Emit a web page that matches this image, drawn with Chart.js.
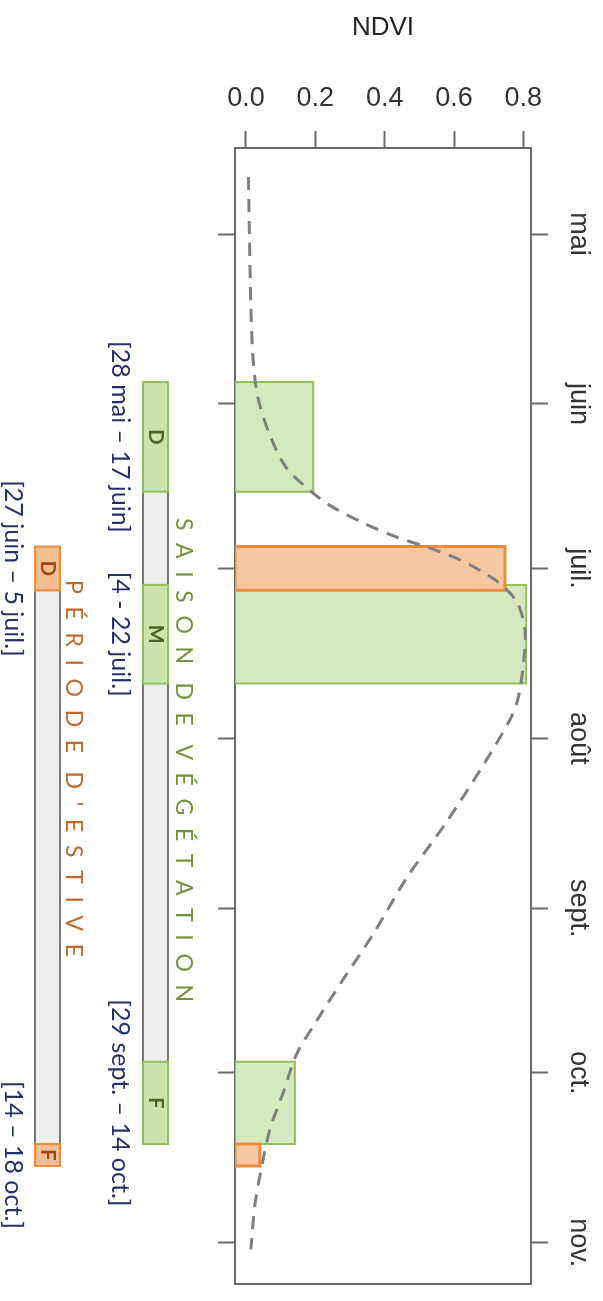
<!DOCTYPE html>
<html>
<head>
<meta charset="utf-8">
<script src="https://cdn.jsdelivr.net/npm/chart.js@4.4.1/dist/chart.umd.min.js"></script>
<style>
  html, body { margin: 0; padding: 0; background: #fff; }
  canvas { display: block; }
</style>
</head>
<body>
<canvas id="chartNdvi" width="603" height="1301"></canvas>
<script>
// axes
const NDVI_TICKS = [0, 0.2, 0.4, 0.6, 0.8];
const MONTH_LABELS = ['mai', 'juin', 'juil.', 'août', 'sept.', 'oct.', 'nov.'];
const MONTH_DAYS = [121, 152, 182, 213, 244, 274, 305]; // jour de l'année, 1er du mois

// courbe NDVI moyenne (pointillés)
const CURVE_DAY = [110.6, 121.3, 134.1, 144.3, 151.0, 157.7, 163.7, 167.8, 170.5, 173.7, 176.3, 178.3,
  180.7, 184.3, 188.1, 193.4, 199.4, 205.6, 209.5, 217.8, 228.2, 238.4, 248.7, 256.9, 264.5, 270.6,
  277.5, 284.3, 291.2, 298.0, 306.2];
const CURVE_NDVI = [0.007, 0.010, 0.014, 0.021, 0.035, 0.069, 0.117, 0.185, 0.242, 0.338, 0.435, 0.531,
  0.626, 0.723, 0.781, 0.805, 0.800, 0.785, 0.762, 0.685, 0.579, 0.464, 0.367, 0.281, 0.204, 0.146,
  0.108, 0.069, 0.045, 0.026, 0.014];

// saison de végétation : début / milieu / fin
const SEASON_PHASES = ['D', 'M', 'F'];
const SEASON_START = [148, 185, 272];
const SEASON_END = [168, 203, 287];
const SEASON_NDVI = [0.194, 0.808, 0.141];
const SEASON_DATES = ['[28 mai – 17 juin]', '[4 - 22 juil.]', '[29 sept. – 14 oct.]'];

// période d'estive : début / fin
const ESTIVE_PHASES = ['D', 'F'];
const ESTIVE_START = [178, 287];
const ESTIVE_END = [186, 291];
const ESTIVE_NDVI = [0.747, 0.040];
const ESTIVE_DATES = ['[27 juin – 5 juil.]', '[14 – 18 oct.]'];

const X_MIN = -0.0317, X_MAX = 0.822;
const Y_MIN = 105.3, Y_MAX = 312.5;

const GREEN_FILL = '#d5e9be', GREEN_LINE = '#93c05a';
const ORANGE_FILL = '#f5c7a3', ORANGE_LINE = '#ef8c3a';
const AXIS_COLOR = '#6a6a6a';

function rectPoints(d0, d1, v) {
  return [{x: X_MIN, y: d0}, {x: v, y: d0}, {x: v, y: d1}, {x: X_MIN, y: d1}, {x: X_MIN, y: d0}];
}

function rectDataset(d0, d1, v, fill, line, width, order) {
  return {
    data: rectPoints(d0, d1, v),
    showLine: true,
    fill: 'shape',
    backgroundColor: fill,
    borderColor: line,
    borderWidth: width,
    pointRadius: 0,
    tension: 0,
    order: order
  };
}

const datasets = [];
datasets.push({
  data: CURVE_DAY.map((d, i) => ({x: CURVE_NDVI[i], y: d})),
  showLine: true,
  fill: false,
  borderColor: '#7f7f7f',
  borderWidth: 3,
  borderDash: [13, 9],
  pointRadius: 0,
  tension: 0.3,
  order: 0
});
ESTIVE_START.forEach((d, i) => datasets.push(rectDataset(d, ESTIVE_END[i], ESTIVE_NDVI[i], ORANGE_FILL, ORANGE_LINE, 3, 1)));
SEASON_START.forEach((d, i) => datasets.push(rectDataset(d, SEASON_END[i], SEASON_NDVI[i], GREEN_FILL, GREEN_LINE, 2, 2)));

function vText(ctx, text, x, y, font, color) {
  ctx.save();
  ctx.translate(x, y);
  ctx.rotate(Math.PI / 2);
  ctx.font = font;
  ctx.fillStyle = color;
  ctx.textAlign = 'center';
  ctx.textBaseline = 'middle';
  ctx.fillText(text, 0, 0);
  ctx.restore();
}

// texte espacé lettre par lettre, écrit de haut en bas
function spacedText(ctx, text, x, y0, y1, font, color) {
  ctx.save();
  ctx.font = font;
  ctx.fillStyle = color;
  const chars = [...text];
  const widths = chars.map(c => ctx.measureText(c).width);
  const letters = chars.filter(c => c !== ' ').length;
  const gap = (y1 - y0 - widths.reduce((a, b) => a + b, 0)) / (letters - 1);
  let y = y0;
  chars.forEach((c, i) => {
    if (c !== ' ') {
      ctx.save();
      ctx.translate(x, y);
      ctx.rotate(Math.PI / 2);
      ctx.textAlign = 'left';
      ctx.textBaseline = 'middle';
      ctx.fillText(c, 0, 0);
      ctx.restore();
      y += widths[i] + gap;
    } else {
      y += widths[i];
    }
  });
  ctx.restore();
}

function drawStrip(ctx, ys, x0, x1, starts, ends, phases, fill, line, letterColor) {
  const top = ys.getPixelForValue(starts[0]);
  const bottom = ys.getPixelForValue(ends[ends.length - 1]);
  ctx.fillStyle = '#eeeeee';
  ctx.fillRect(x0, top, x1 - x0, bottom - top);
  ctx.strokeStyle = '#777777';
  ctx.lineWidth = 2;
  ctx.beginPath();
  ctx.moveTo(x0, top); ctx.lineTo(x0, bottom);
  ctx.moveTo(x1, top); ctx.lineTo(x1, bottom);
  ctx.stroke();
  starts.forEach((d, i) => {
    const a = ys.getPixelForValue(d), b = ys.getPixelForValue(ends[i]);
    ctx.fillStyle = fill;
    ctx.fillRect(x0, a, x1 - x0, b - a);
    ctx.strokeStyle = line;
    ctx.lineWidth = 2;
    ctx.strokeRect(x0, a, x1 - x0, b - a);
    vText(ctx, phases[i], (x0 + x1) / 2, (a + b) / 2, 'bold 20px Lato', letterColor);
  });
}

const annotations = {
  id: 'annotations',
  afterDraw(chart) {
    const ctx = chart.ctx;
    const ys = chart.scales.y;
    const dateFont = '25px Lato', dateColor = '#25306a';

    drawStrip(ctx, ys, 143, 168, SEASON_START, SEASON_END, SEASON_PHASES, '#cbe3ad', GREEN_LINE, '#4f6228');
    drawStrip(ctx, ys, 35, 60, ESTIVE_START, ESTIVE_END, ESTIVE_PHASES, '#f5bd92', ORANGE_LINE, '#9c4a10');

    SEASON_DATES.forEach((t, i) => {
      const mid = ys.getPixelForValue((SEASON_START[i] + SEASON_END[i]) / 2);
      vText(ctx, t, 120, mid, dateFont, dateColor);
    });
    ESTIVE_DATES.forEach((t, i) => {
      const mid = ys.getPixelForValue((ESTIVE_START[i] + ESTIVE_END[i]) / 2);
      vText(ctx, t, 13, mid, dateFont, dateColor);
    });

    spacedText(ctx, 'SAISON DE VÉGÉTATION', 183, 518, 1002, '23px Lato', '#76923c');
    spacedText(ctx, "PÉRIODE D'ESTIVE", 73, 580, 957, '23px Lato', '#c0692c');
  }
};

const monthTicks = scale => { scale.ticks = MONTH_DAYS.map(v => ({value: v})); };

new Chart(document.getElementById('chartNdvi'), {
  type: 'scatter',
  data: { datasets: datasets },
  plugins: [annotations],
  options: {
    responsive: false,
    animation: false,
    devicePixelRatio: 1,
    layout: { padding: { left: 218, right: 0, top: 0, bottom: 15 } },
    plugins: { legend: { display: false }, tooltip: { enabled: false } },
    scales: {
      x: {
        type: 'linear',
        position: 'top',
        min: X_MIN,
        max: X_MAX,
        afterBuildTicks: scale => { scale.ticks = NDVI_TICKS.map(v => ({value: v})); },
        afterFit: scale => { scale.height = 148; },
        ticks: {
          padding: 16,
          color: '#333',
          font: { family: 'Liberation Sans', size: 27 },
          callback: v => v.toFixed(1)
        },
        grid: { drawOnChartArea: false, tickLength: 17, tickColor: AXIS_COLOR, tickWidth: 2 },
        border: { color: AXIS_COLOR, width: 2 },
        title: {
          display: true,
          text: 'NDVI',
          color: '#222',
          font: { family: 'Liberation Sans', size: 26 },
          padding: { top: 12, bottom: 0 }
        }
      },
      x2: {
        type: 'linear',
        position: 'bottom',
        min: X_MIN,
        max: X_MAX,
        afterFit: scale => { scale.height = 0; },
        ticks: { display: false },
        grid: { display: false },
        border: { color: AXIS_COLOR, width: 2 }
      },
      y: {
        type: 'linear',
        position: 'right',
        reverse: true,
        min: Y_MIN,
        max: Y_MAX,
        afterBuildTicks: monthTicks,
        afterFit: scale => { scale.width = 72; },
        ticks: {
          autoSkip: false,
          minRotation: -90,
          maxRotation: -90,
          crossAlign: 'center',
          padding: 1,
          color: '#333',
          font: { family: 'Liberation Sans', size: 27 },
          callback: (v, i) => MONTH_LABELS[i]
        },
        grid: { drawOnChartArea: false, tickLength: 17, tickColor: AXIS_COLOR, tickWidth: 2 },
        border: { color: AXIS_COLOR, width: 2 }
      },
      y2: {
        type: 'linear',
        position: 'left',
        reverse: true,
        min: Y_MIN,
        max: Y_MAX,
        afterBuildTicks: monthTicks,
        afterFit: scale => { scale.width = 17; },
        ticks: { display: false },
        grid: { drawOnChartArea: false, tickLength: 17, tickColor: AXIS_COLOR, tickWidth: 2 },
        border: { color: AXIS_COLOR, width: 2 }
      }
    }
  }
});
</script>
</body>
</html>
